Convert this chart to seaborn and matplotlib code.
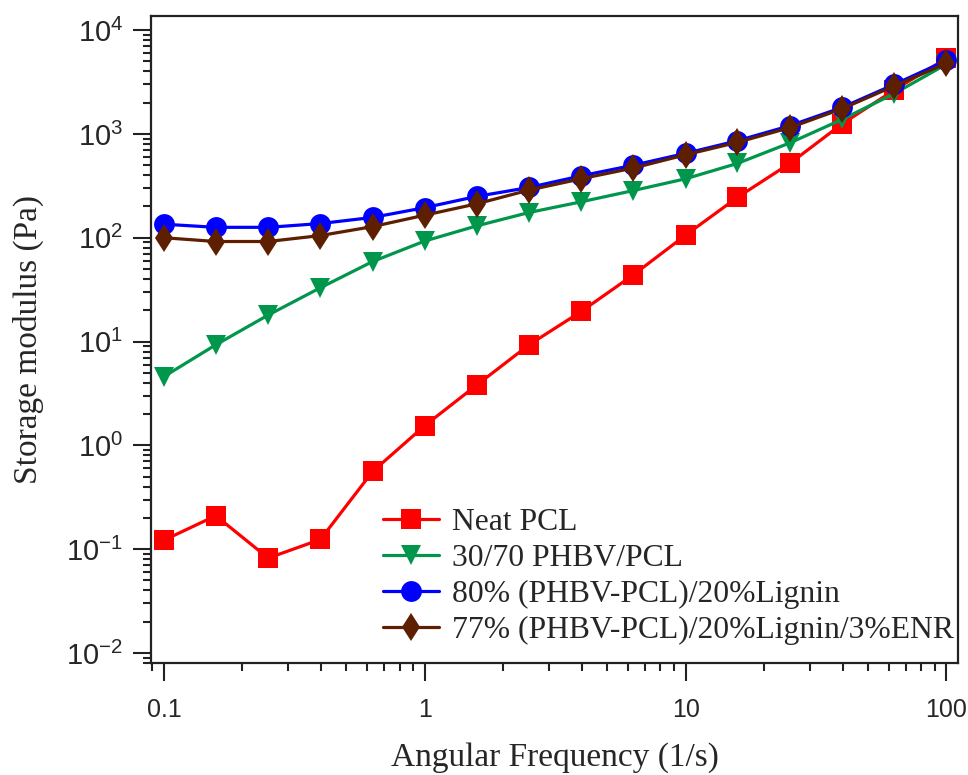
import numpy as np
import pandas as pd
import seaborn as sns
import matplotlib.pyplot as plt
from matplotlib.ticker import LogLocator, NullFormatter

# angular frequency (1/s)
freq = [0.1, 0.158, 0.251, 0.398, 0.631, 1.0, 1.58, 2.51, 3.98, 6.31,
        10.0, 15.8, 25.1, 39.8, 63.1, 100.0]

# storage modulus (Pa)
neat_pcl = [0.122, 0.21, 0.082, 0.124, 0.56, 1.55, 3.8, 9.3, 19.5, 44,
            106, 245, 520, 1250, 2650, 5350]
phbv_pcl = [4.6, 9.3, 18, 33, 59, 93, 130, 175, 222, 285,
            370, 520, 820, 1380, 2450, 4700]
lignin = [135, 126, 126, 137, 157, 195, 250, 305, 395, 500,
          650, 860, 1200, 1800, 3000, 5100]
lignin_enr = [100, 92, 92, 105, 128, 165, 212, 288, 370, 470,
              630, 830, 1150, 1750, 2900, 4800]

names = ['Neat PCL', '30/70 PHBV/PCL', '80% (PHBV-PCL)/20%Lignin',
         '77% (PHBV-PCL)/20%Lignin/3%ENR']
colors = ['#FF0000', '#00964B', '#0000FF', '#5E1E00']
markers = ['s', 'v', 'o', 'd']
sizes = [14, 14.5, 15, 14.5]

xticks = [0.1, 1, 10, 100]
xtick_labels = ['0.1', '1', '10', '100']
yticks = [1e-2, 1e-1, 1e0, 1e1, 1e2, 1e3, 1e4]
ytick_labels = ['$10^{-2}$', '$10^{-1}$', '$10^{0}$', '$10^{1}$',
                '$10^{2}$', '$10^{3}$', '$10^{4}$']

sns.set_style('ticks')
plt.rcParams['font.family'] = ['Liberation Serif', 'DejaVu Serif']
plt.rcParams['mathtext.fontset'] = 'custom'
plt.rcParams['mathtext.rm'] = 'Liberation Sans'
plt.rcParams['mathtext.it'] = 'Liberation Sans'
plt.rcParams['mathtext.default'] = 'rm'

fig = plt.figure(figsize=(9.68, 7.75), dpi=100)
ax = fig.add_axes([0.156, 0.1445, 0.834, 0.8345])

series = [neat_pcl, phbv_pcl, lignin, lignin_enr]
for name, vals, c, m, s in zip(names, series, colors, markers, sizes):
    df = pd.DataFrame({'freq': freq, 'G': vals})
    sns.lineplot(data=df, x='freq', y='G', ax=ax, color=c, marker=m,
                 markersize=s, markeredgewidth=0, linewidth=2.3, label=name)

ax.set_xscale('log')
ax.set_yscale('log')
ax.set_xlim(0.0892, 111)
ax.set_ylim(8.0e-3, 1.36e4)

ax.set_xticks(xticks)
ax.set_xticklabels(xtick_labels, family='Liberation Sans', fontsize=18)
ax.set_yticks(yticks)
ax.set_yticklabels(ytick_labels, fontsize=21)
ax.xaxis.set_minor_locator(LogLocator(base=10, subs=np.arange(2, 10)))
ax.yaxis.set_minor_locator(LogLocator(base=10, subs=np.arange(2, 10), numticks=20))
ax.xaxis.set_minor_formatter(NullFormatter())
ax.yaxis.set_minor_formatter(NullFormatter())
ax.tick_params(which='major', direction='out', length=13, width=1.5, color='#222222')
ax.tick_params(which='minor', direction='out', length=6, width=1.5, color='#222222')
ax.tick_params(axis='x', which='major', pad=12)
ax.tick_params(axis='y', which='major', pad=7)

for sp in ax.spines.values():
    sp.set_linewidth(1.6)
    sp.set_color('#222222')

ax.set_xlabel('Angular Frequency (1/s)', fontsize=24, labelpad=15)
ax.set_ylabel('Storage modulus (Pa)', fontsize=24, labelpad=16)

ax.legend(loc='upper left', bbox_to_anchor=(0.2875, 0.24), frameon=False,
          fontsize=22.8, handlelength=1.78, handletextpad=0.41,
          labelspacing=0.22, borderpad=0, borderaxespad=0)

fig.savefig('out.png', dpi=100)
